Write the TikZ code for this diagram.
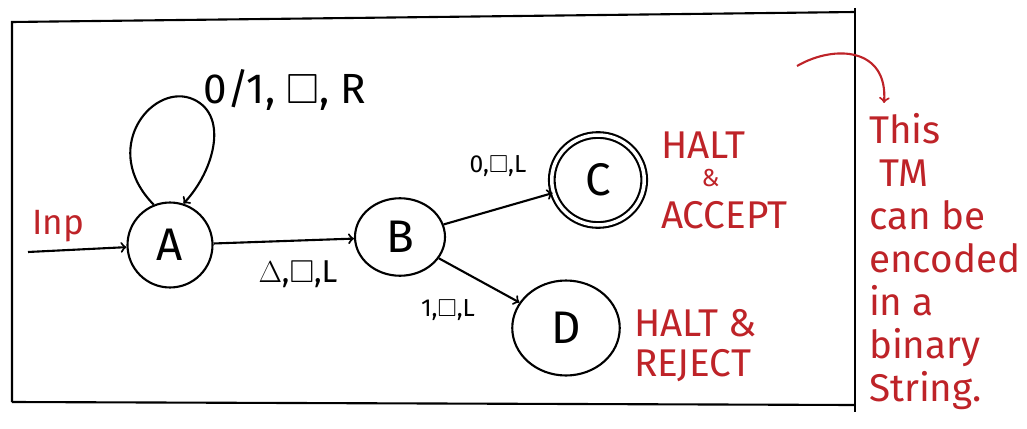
\documentclass[tikz,border=0pt]{standalone}
\usepackage{fontspec}
\setmainfont{Fira Sans}
\usepackage{amssymb}
\usetikzlibrary{shapes.geometric}
\definecolor{inkred}{RGB}{190,35,40}
\tikzset{tmstate/.style={draw,ellipse,inner sep=0pt,font=\fontsize{26}{30}\selectfont},
  lbl/.style={font=\fontsize{#1}{#1}\selectfont,inner sep=1pt},
  note/.style={text=inkred,align=left,inner sep=0pt}}

\begin{document}
\begin{tikzpicture}[x=0.02cm,y=-0.02cm,line width=1.2pt]
\useasboundingbox (0,0) rectangle (1027,429);
% frame
\draw (12,402) -- (12,22) -- (855,12);
\draw (855,8) -- (855,412);
\draw (12,402) -- (855,405);
% states
\node[tmstate,minimum width=1.7cm,minimum height=1.7cm] (A) at (170,245) {A};
\node[tmstate,minimum width=1.8cm,minimum height=1.55cm] (B) at (400,237) {B};
\node[tmstate,double,double distance=2pt,minimum width=1.85cm,minimum height=1.8cm] (C) at (598,180) {C};
\node[tmstate,minimum width=2.15cm,minimum height=1.9cm] (D) at (566,328) {D};
% start
\coordinate (inp) at (28,252);
\draw[->] (inp) -- (A);
\node[text=inkred,lbl=20] (inplbl) at (58,226) {Inp};
% transitions
\draw[->] (A.112) .. controls (100,150) and (150,85) .. (190,98) .. controls (230,112) and (215,170) .. (A.72);
\node[lbl=24] (loop) at (285,90) {0/1, $\square$, R};
\draw[->] (A) -- (B);
\node[lbl=18] (ab) at (298,274) {$\Delta$,$\square$,L};
\draw[->] (B) -- (C);
\node[lbl=14] (bc) at (498,166) {0,$\square$,L};
\draw[->] (B) -- (D);
\node[lbl=14] (bd) at (448,310) {1,$\square$,L};
% remarks
\node[note,anchor=north west,font=\fontsize{22}{20}\selectfont] (acc) at (660,131) {HALT\\[-4pt]\hspace*{1.05em}{\fontsize{14}{14}\selectfont\&}\\[4pt]ACCEPT};
\node[note,anchor=north west,font=\fontsize{22}{23}\selectfont] (rej) at (633,308) {HALT \&\\REJECT};
\node[note,anchor=north west,font=\fontsize{22}{24.5}\selectfont] (tm) at (868,112) {This\\\ TM\\can be\\encoded\\in a\\binary\\String.};
\coordinate (from) at (797,66);
\coordinate (to) at (884,103);
\draw[->,inkred] (from) .. controls (835,44) and (888,48) .. (to);
\end{tikzpicture}
\end{document}
